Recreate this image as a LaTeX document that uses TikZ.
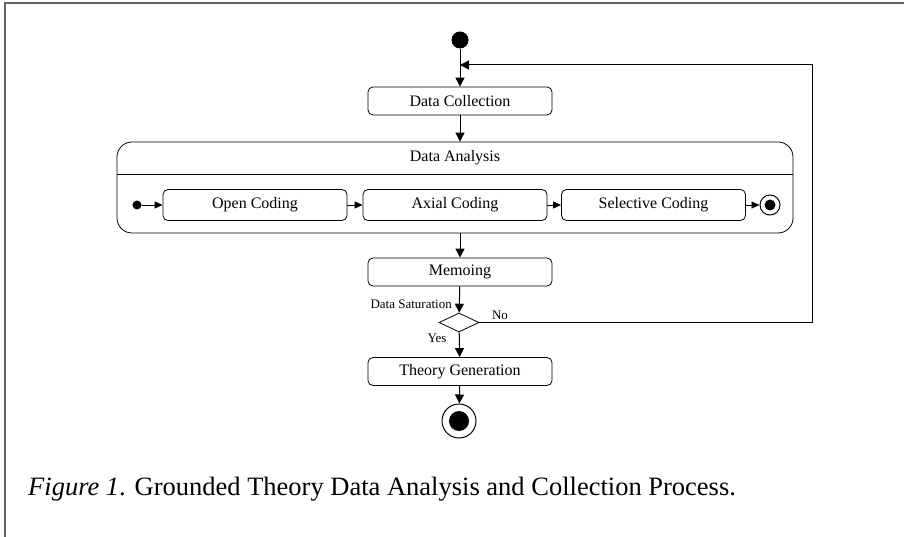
\documentclass[tikz,border=0pt]{standalone}
\usepackage{fontspec}
\setmainfont{Liberation Serif}
\usetikzlibrary{shapes.geometric,arrows.meta}

\begin{document}
\begin{tikzpicture}[x=1pt,y=-1pt]

\tikzset{Activity/.style = {draw, rounded corners=5pt, minimum width=184pt,
                            minimum height=28pt, inner sep=0pt, line width=.8pt,
                            font=\fontsize{16}{18}\selectfont},
         Flow/.style     = {-{Triangle[length=9pt,width=9pt]}, line width=1pt},
         SmallFlow/.style= {-{Triangle[length=8pt,width=7pt]}, line width=.9pt},
         Dot/.style      = {circle, fill, inner sep=0pt},
         Ring/.style     = {circle, draw, inner sep=0pt, line width=1pt},
         Tag/.style      = {inner sep=1pt, font=\fontsize{13}{15}\selectfont}}

\useasboundingbox (0,0) rectangle (904,537);
\draw[black!60, line width=2pt] (5,537) -- (5,3) -- (904,3);

\node[Dot, minimum size=17pt] (start) at (460,40) {};
\node[Activity] (collect) at (460,101) {Data Collection};

\node[draw, rounded corners=15pt, minimum width=676pt, minimum height=91pt,
      inner sep=0pt, line width=.8pt] (analysis) at (455,187.5) {};
\node[Tag, font=\fontsize{16}{18}\selectfont] (analysistitle) at (455,158) {Data Analysis};
\coordinate (sepL) at (117,174);
\coordinate (sepR) at (793,174);
\draw[line width=.8pt] (sepL) -- (sepR);

\node[Dot, minimum size=9pt] (substart) at (137,205) {};
\node[Activity, minimum height=31pt] (open) at (255,205) {Open Coding};
\node[Activity, minimum height=31pt] (axial) at (455,205) {Axial Coding};
\node[Activity, minimum height=31pt] (selective) at (653.5,205) {Selective Coding};
\node[Ring, minimum size=20pt] (subend) at (770,205) {};
\node[Dot, minimum size=11pt] at (subend) {};

\node[Activity] (memo) at (460,272) {Memoing};
\node[diamond, draw, inner sep=0pt, minimum width=40pt, minimum height=19pt,
      line width=.8pt] (decision) at (459,322.5) {};
\node[Activity] (theory) at (460,371.5) {Theory Generation};
\node[Ring, minimum size=34pt] (finish) at (459,421) {};
\node[Dot, minimum size=20pt] at (finish) {};

\coordinate (merge) at (460,65);
\coordinate (back) at (812,65);

\draw[line width=1pt] (start) -- (merge);
\draw[Flow] (merge) -- (collect);
\draw[Flow] (collect) -- (analysis.north -| collect);
\draw[Flow] (analysis.south -| collect) -- (memo);
\draw[Flow] (memo) -- (decision);
\draw[Flow] (decision) -- (theory);
\draw[Flow] (theory) -- (finish);
\draw[Flow] (decision.east) -- (back |- decision) -- (back) -- (merge);

\draw[SmallFlow] (substart) -- (open);
\draw[SmallFlow] (open) -- (axial);
\draw[SmallFlow] (axial) -- (selective);
\draw[SmallFlow] (selective) -- (subend);

\node[Tag, anchor=east] (saturation) at (453,304) {Data Saturation};
\node[Tag] (no) at (500,315) {No};
\node[Tag] (yes) at (437,338) {Yes};

\node[anchor=base west, inner sep=0pt, font=\fontsize{26.5}{30}\selectfont]
      (caption) at (28,495) {\textit{Figure 1}. Grounded Theory Data Analysis and Collection Process.};

\end{tikzpicture}
\end{document}
